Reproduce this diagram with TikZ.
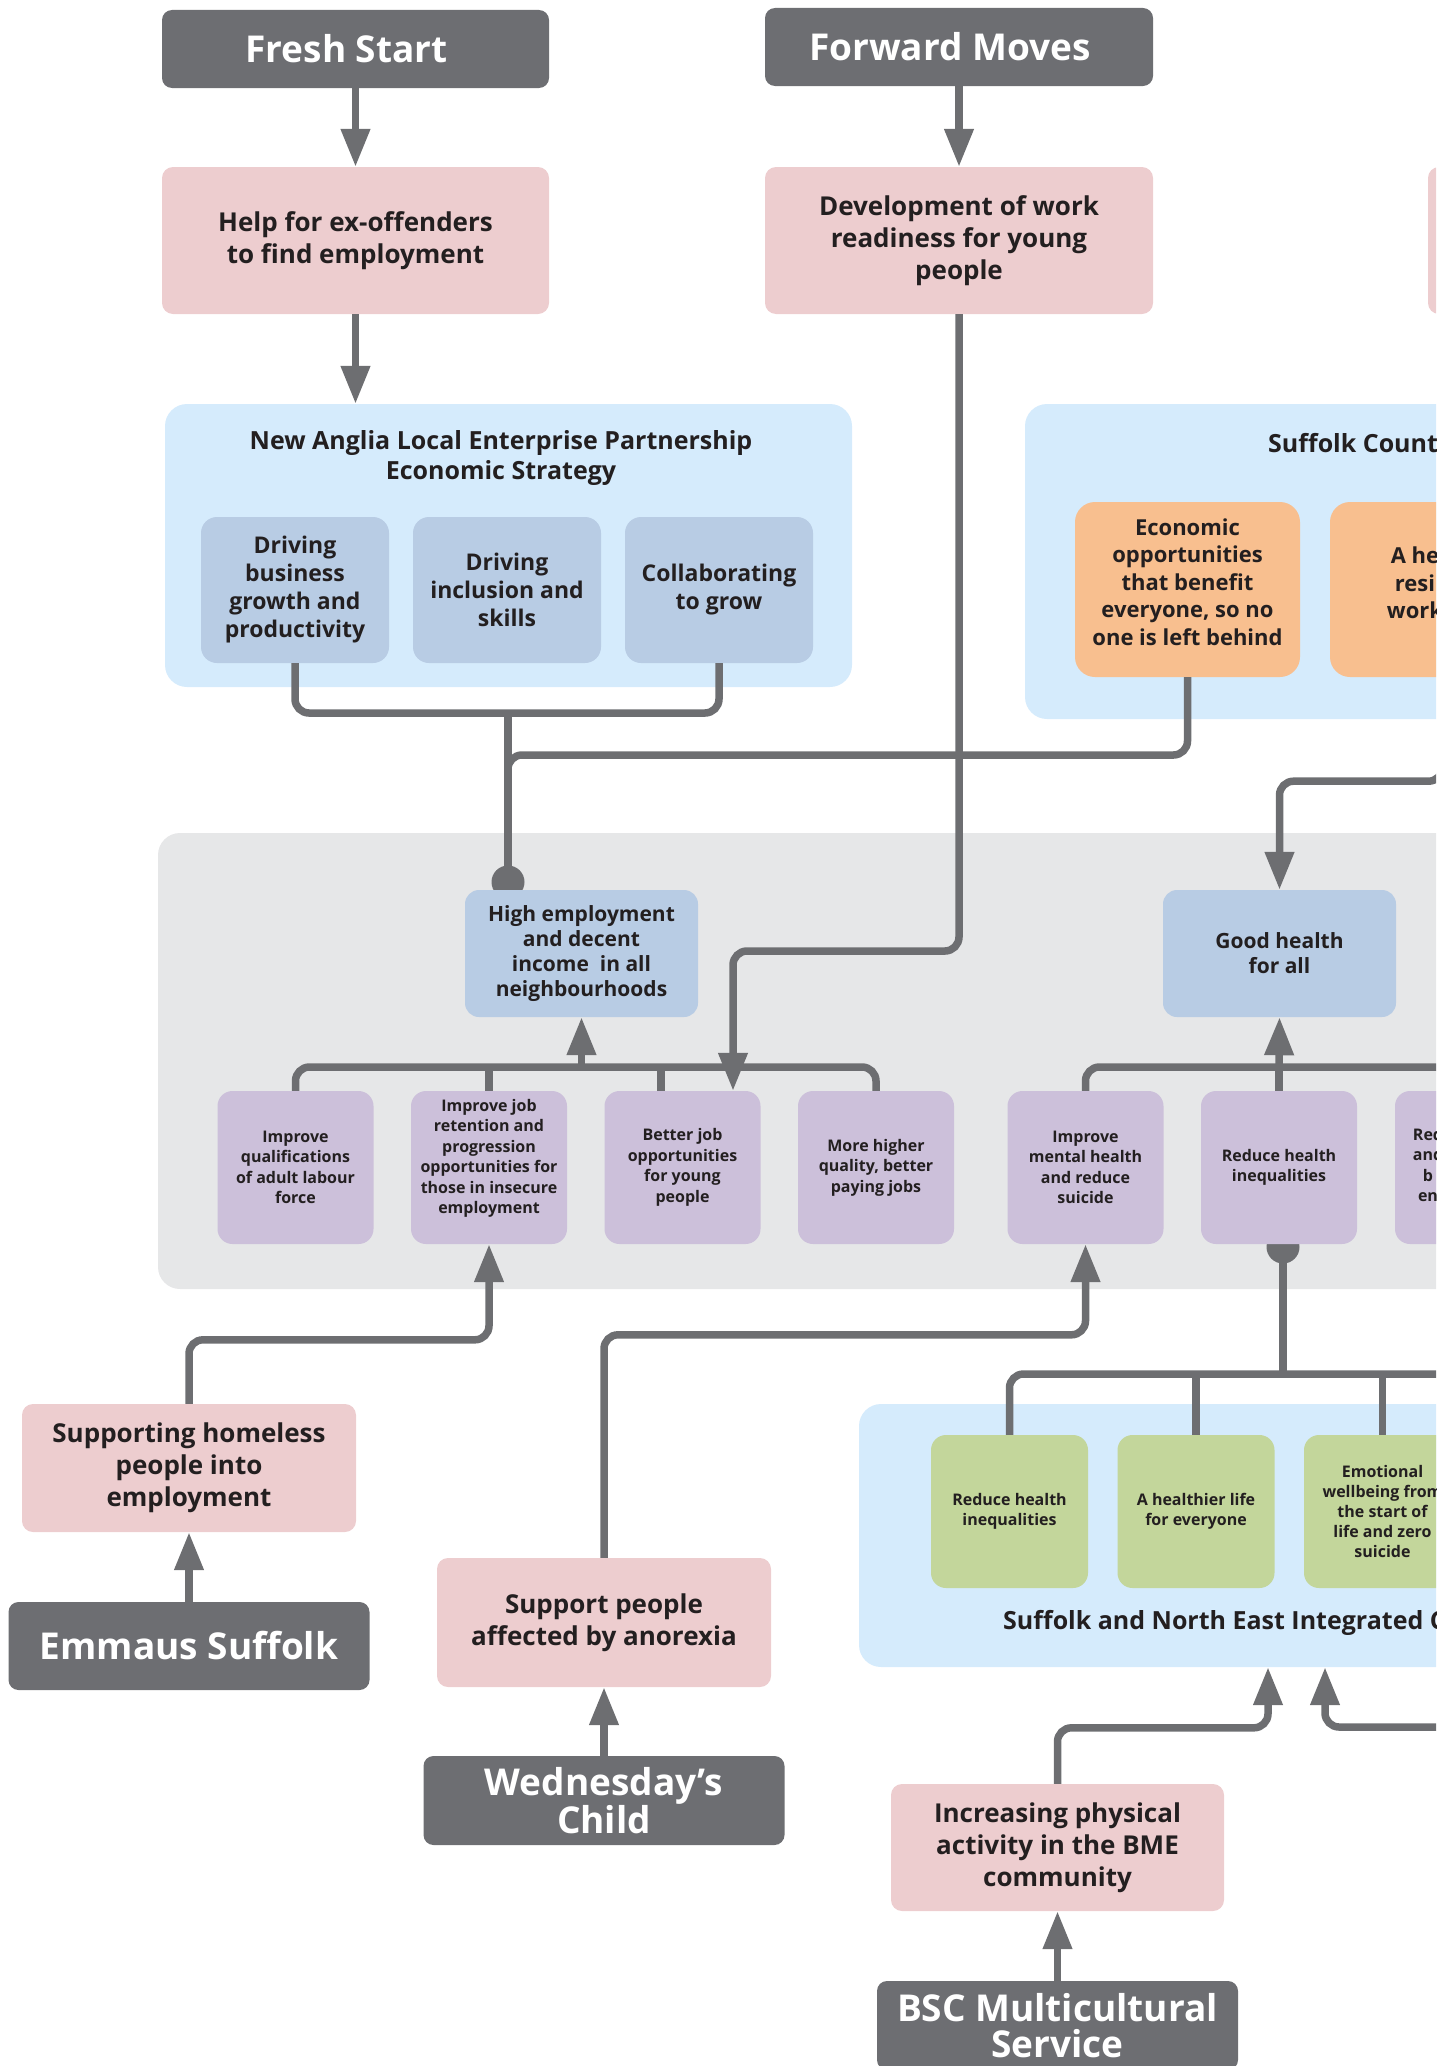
\documentclass[tikz,border=0pt]{standalone}
\usepackage{fontspec}
\setmainfont{Open Sans}
\usepackage{tikz}
\usetikzlibrary{arrows.meta,positioning}
\definecolor{orggrey}{RGB}{109,110,114}
\definecolor{linegrey}{RGB}{109,110,113}
\definecolor{projpink}{RGB}{237,205,207}
\definecolor{framblue}{RGB}{213,235,252}
\definecolor{prioblue}{RGB}{184,204,228}
\definecolor{panelgrey}{RGB}{230,231,232}
\definecolor{aimpurple}{RGB}{204,192,218}
\definecolor{goalorange}{RGB}{248,191,143}
\definecolor{icbgreen}{RGB}{195,214,155}
\definecolor{inkdark}{RGB}{35,31,32}
\tikzset{
    orgbox/.style={rounded corners=10pt, fill=#1, minimum width=361pt,
                   minimum height=89pt, inner sep=0pt, align=center,
                   text=white, font=\fontsize{37}{36}\selectfont\bfseries},
    projbox/.style={rounded corners=11pt, fill=#1, minimum width=334pt,
                    minimum height=128pt, inner sep=0pt, align=center,
                    text=inkdark, font=\fontsize{26}{32}\selectfont\bfseries},
    groupbox/.style={rounded corners=22pt, fill=#1, inner sep=0pt},
    grouptitle/.style={inner sep=0pt, align=center, text=inkdark,
                       font=\fontsize{25}{30}\selectfont\bfseries},
    priobox/.style={rounded corners=16pt, fill=#1, minimum width=188pt,
                    minimum height=146pt, inner sep=0pt, align=center,
                    text=inkdark, font=\fontsize{23}{28}\selectfont\bfseries},
    goaltext/.style={inner sep=0pt, align=center, text=inkdark,
                     font=\fontsize{22}{27.5}\selectfont\bfseries},
    goalbox/.style={goaltext, rounded corners=20pt, fill=#1,
                    minimum width=225pt, minimum height=175pt},
    outcome/.style={rounded corners=14pt, fill=#1, minimum width=233pt,
                    minimum height=127pt, inner sep=0pt, align=center,
                    text=inkdark, font=\fontsize{21}{25}\selectfont\bfseries},
    aimtext/.style={inner sep=0pt, align=center, text=inkdark,
                    font=\fontsize{16}{20.5}\selectfont\bfseries},
    aimbox/.style={aimtext, rounded corners=15pt, fill=#1,
                   minimum width=156pt, minimum height=153pt},
    icbbox/.style={rounded corners=15pt, fill=#1, minimum width=157pt,
                   minimum height=153pt, inner sep=0pt, align=center,
                   text=inkdark, font=\fontsize{16}{20}\selectfont\bfseries},
    dotmark/.style={circle, fill=linegrey, minimum size=33pt, inner sep=0pt},
}
\begin{document}
\begin{tikzpicture}[
    x=1pt, y=-1pt,
    link/.style={line width=7.5pt, draw=linegrey, rounded corners=14pt},
    arr/.style={link, -{Triangle[length=38pt, width=28pt]}}
]
    \useasboundingbox (0,0) rectangle (1436,2066);
    \clip (0,0) rectangle (1436,2066);

    \node[groupbox=panelgrey, minimum width=1900pt, minimum height=456pt] (panel) at (1108,1061) {};
    \node[groupbox=framblue, minimum width=687pt, minimum height=283pt] (nalep) at (508.5,545.5) {};
    \node[groupbox=framblue, minimum width=800pt, minimum height=315pt] (scc) at (1425,561.5) {};
    \node[groupbox=framblue, minimum width=1000pt, minimum height=263pt] (icb) at (1359,1535.5) {};
    \node[grouptitle] (nalepttl) at (501,458) {New Anglia Local Enterprise Partnership\\Economic Strategy};
    \node[grouptitle, anchor=west] (sccttl) at (1268,443) {Suffolk Count};
    \node[grouptitle, anchor=west] (icbttl) at (1003,1623) {Suffolk and North East Integrated C};

    \node[orgbox=orggrey, minimum width=387pt, minimum height=78pt] (fresh) at (355.5,49) {Fresh Start\hspace*{18pt}};
    \node[orgbox=orggrey, minimum width=388pt, minimum height=78pt] (fwd) at (959,47) {Forward Moves\hspace*{18pt}};
    \node[projbox=projpink, minimum width=387pt, minimum height=147pt] (help) at (355.5,240.5) {Help for ex-offenders\\to find employment};
    \node[projbox=projpink, minimum width=388pt, minimum height=147pt] (dev) at (959,240.5) {Development of work\\readiness for young\\people};
    \node[projbox=projpink, minimum width=387pt, minimum height=147pt] (nextproj) at (1621.5,240.5) {};

    \node[priobox=prioblue] (grow) at (295,590) {Driving\\business\\growth and\\productivity};
    \node[priobox=prioblue] (incl) at (507,590) {Driving\\inclusion and\\skills};
    \node[priobox=prioblue] (collab) at (719,590) {Collaborating\\to grow};
    \node[goalbox=goalorange, text depth=15pt] (econ) at (1187.5,589.5) {Economic\\opportunities\\that benefit\\everyone, so no\\one is left behind};
    \node[goalbox=goalorange] (wrkf) at (1442.5,589.5) {};
    \node[goaltext] (wrkftxt) at (1415,583) {A he\\resi\\work};

    \node[dotmark] (empdot) at (508,882) {};
    \node[dotmark] (rhdot) at (1283,1247) {};
    \node[outcome=prioblue] (highemp) at (581.5,953.5) {High employment\\and decent\\income~ in all\\neighbourhoods};
    \node[outcome=prioblue] (goodhealth) at (1279.5,953.5) {Good health\\for all};

    \node[aimbox=aimpurple] (aim1) at (295.5,1167.5) {Improve\\qualifications\\of adult labour\\force};
    \node[aimbox=aimpurple, text depth=22pt] (aim2) at (489,1167.5) {Improve job\\retention and\\progression\\opportunities for\\those in insecure\\employment};
    \node[aimbox=aimpurple] (aim3) at (682.5,1167.5) {Better job\\opportunities\\for young\\people};
    \node[aimbox=aimpurple] (aim4) at (876,1167.5) {More higher\\quality, better\\paying jobs};
    \node[aimbox=aimpurple] (aim5) at (1085.5,1167.5) {Improve\\mental health\\and reduce\\suicide};
    \node[aimbox=aimpurple] (aim6) at (1279,1167.5) {Reduce health\\inequalities};
    \node[aimbox=aimpurple] (aim7) at (1473,1167.5) {};
    \node[aimtext] (aim7txt) at (1428,1165) {Red\\and\\b\\en};

    \node[icbbox=icbgreen] (icb1) at (1009.5,1511.5) {Reduce health\\inequalities};
    \node[icbbox=icbgreen] (icb2) at (1196,1511.5) {A healthier life\\for everyone};
    \node[icbbox=icbgreen] (icb3) at (1382.5,1511.5) {Emotional\\wellbeing from\\the start of\\life and zero\\suicide};

    \node[projbox=projpink] (homeless) at (189,1468) {Supporting homeless\\people into\\employment};
    \node[projbox=projpink, minimum height=129pt] (anorexia) at (604,1622.5) {Support people\\affected by anorexia};
    \node[projbox=projpink, minimum width=333pt, minimum height=127pt] (bme) at (1057.5,1847.5) {Increasing physical\\activity in the BME\\community};
    \node[orgbox=orggrey, minimum height=88pt] (emmaus) at (189,1646) {Emmaus Suffolk};
    \node[orgbox=orggrey] (wed) at (604,1800.5) {Wednesday’s\\Child};
    \node[orgbox=orggrey] (bsc) at (1057.5,2025.5) {BSC Multicultural\\Service};

    \coordinate (nalepjoin) at (508,713);
    \coordinate (econturn) at (508,755);
    \coordinate (devturn) at (733,951);
    \coordinate (empjoin) at (581.5,1067);
    \coordinate (healthjoin) at (1279,1067);
    \coordinate (icbjoin) at (1283,1374);
    \coordinate (icbfeed) at (1520,1727);

    \draw[arr] (fresh) -- (help);
    \draw[arr] (fwd) -- (dev);
    \draw[arr] (help.south) -- (help.south |- nalep.north);
    \draw[link] (grow.south) |- (nalepjoin) -| (collab.south);
    \draw[link] (nalepjoin) -- (empdot.center);
    \draw[link] (econ.south) |- (econturn) -- (empdot.center);
    \draw[arr] (dev.south) |- (devturn) -- ([xshift=50.5pt]aim3.north);
    \draw[arr] (wrkf.south) -- ++(0,104) -| (goodhealth.north);

    \draw[link] (aim1.north) |- (empjoin) -| (aim4.north);
    \draw[link] (aim2.north) -- ++(0,-24);
    \draw[link] ([xshift=-21.5pt]aim3.north) -- ++(0,-24);
    \draw[arr] (empjoin) -- (highemp.south);
    \draw[link] (aim5.north) |- (healthjoin) -- ++(300,0);
    \draw[link] (aim6.north) -- (healthjoin);
    \draw[arr] (healthjoin) -- (goodhealth.south);

    \draw[link] (rhdot.center) -- (icbjoin);
    \draw[link] (icb1.north) |- (icbjoin) -- ++(300,0);
    \draw[link] (icb2.north) -- (icb2.north |- icbjoin);
    \draw[link] (icb3.north) -- (icb3.north |- icbjoin);

    \draw[arr] (emmaus) -- (homeless);
    \draw[arr] (homeless.north) -- ++(0,-64) -| (aim2.south);
    \draw[arr] (wed) -- (anorexia);
    \draw[arr] (anorexia.north) -- ++(0,-223) -| (aim5.south);
    \draw[arr] (bsc) -- (bme);
    \draw[arr] (bme.north) -- ++(0,-56) -| ([xshift=-91pt]icb.south);
    \draw[arr] (icbfeed) -| ([xshift=-34pt]icb.south);
\end{tikzpicture}
\end{document}
